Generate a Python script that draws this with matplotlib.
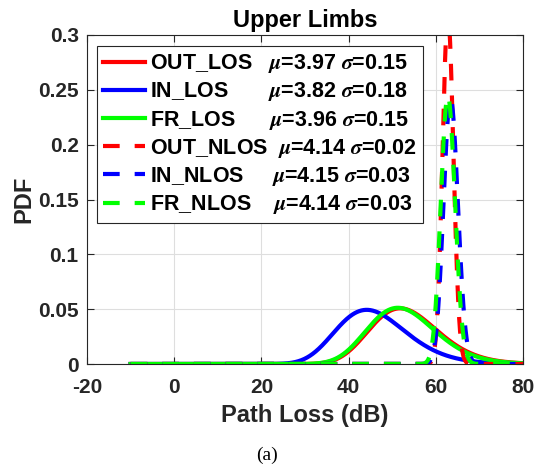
import numpy as np
import matplotlib
matplotlib.use("Agg")
import matplotlib.pyplot as plt

plt.rcParams["font.family"] = ["Liberation Sans", "DejaVu Sans"]
plt.rcParams["font.weight"] = "bold"
plt.rcParams["mathtext.fontset"] = "stix"
plt.rcParams["axes.unicode_minus"] = False

# Log-normal fits of path loss (ln PL ~ N(mu, sigma^2))
names = ["OUT_LOS", "IN_LOS", "FR_LOS", "OUT_NLOS", "IN_NLOS", "FR_NLOS"]
mu = [3.97, 3.82, 3.96, 4.14, 4.15, 4.14]
sigma = [0.15, 0.18, 0.15, 0.02, 0.026, 0.026]
colors = ["#ff0000", "#0000ff", "#00ff00", "#ff0000", "#0000ff", "#00ff00"]
dashed = [False, False, False, True, True, True]
name_pad = [3, 7, 6, 2, 5, 4]

xticks = [-20, 0, 20, 40, 60, 80]
yticks = [0, 0.05, 0.1, 0.15, 0.2, 0.25, 0.3]
ytick_labels = ["0", "0.05", "0.1", "0.15", "0.2", "0.25", "0.3"]

pl = np.linspace(-10, 80, 3000)


def lognormal_pdf(x, m, s):
    out = np.zeros_like(x)
    pos = x > 0
    xp = x[pos]
    out[pos] = np.exp(-(np.log(xp) - m) ** 2 / (2 * s ** 2)) / (xp * s * np.sqrt(2 * np.pi))
    return out


fig = plt.figure(figsize=(5.34, 4.67), dpi=100)
ax = fig.add_axes([87 / 534, 1 - 364 / 467, 436 / 534, 329 / 467])

dark = "#262626"
for n, m, s, c, d, p in zip(names, mu, sigma, colors, dashed, name_pad):
    label = n + " " * p + r"$\mu$" + f"={m:.2f} " + r"$\sigma$" + f"={s:.2f}"
    kw = dict(color=c, lw=3, label=label)
    if d:
        kw.update(ls=(0, (4, 3.6)))
    ax.plot(pl, lognormal_pdf(pl, m, s), **kw)

ax.set_xlim(-20, 80)
ax.set_ylim(0, 0.3)
ax.set_xticks(xticks)
ax.set_yticks(yticks)
ax.set_yticklabels(ytick_labels)
ax.tick_params(direction="in", length=5, width=0.8, colors=dark, labelsize=15,
               top=True, right=True)
ax.tick_params(axis="x", pad=10)
ax.tick_params(axis="y", pad=6)
for lab in ax.get_xticklabels() + ax.get_yticklabels():
    lab.set_fontweight("bold")
for sp in ax.spines.values():
    sp.set_color(dark)
    sp.set_linewidth(0.8)
ax.grid(True, color="#dedede", lw=0.8)
ax.set_axisbelow(True)

ax.set_title("Upper Limbs", fontsize=17, fontweight="bold", color="black", pad=6)
ax.set_xlabel("Path Loss (dB)", fontsize=17, fontweight="bold", color=dark, labelpad=5)
ax.set_ylabel("PDF", fontsize=17, fontweight="bold", color=dark, labelpad=2)

leg = ax.legend(loc="upper left", bbox_to_anchor=(0.023, 0.967), borderaxespad=0,
                fontsize=15.5, handlelength=1.95, handletextpad=0.2,
                labelspacing=0.24, borderpad=0.3, fancybox=False,
                framealpha=1, edgecolor=dark)
leg.get_frame().set_linewidth(0.8)
for t in leg.get_texts():
    t.set_fontweight("bold")

fig.text(0.5, 1 - 455 / 467, "(a)", ha="center", va="center",
         fontsize=14, family="Liberation Serif", fontweight="normal")

fig.savefig("out.png", dpi=100)
